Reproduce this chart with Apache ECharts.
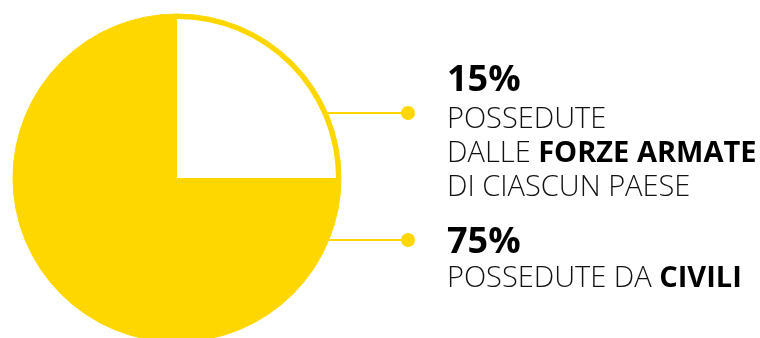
<!DOCTYPE html>
<html><head><meta charset="utf-8">
<script src="https://cdn.jsdelivr.net/npm/echarts@6/dist/echarts.min.js"></script>
<style>html,body{margin:0;padding:0;background:#fff}#c{width:760px;height:338px}</style>
</head><body><div id="c"></div>
<script>
const categories = ['Forze armate', 'Civili'];
const sliceValues = [25, 75];
const percentLabels = ['15%', '75%'];
const descLines = [
  [[{t:'POSSEDUTE', b:false}], [{t:'DALLE ', b:false}, {t:'FORZE ARMATE', b:true}], [{t:'DI CIASCUN PAESE', b:false}]],
  [[{t:'POSSEDUTE DA ', b:false}, {t:'CIVILI', b:true}]]
];

const YEL = '#FFD700';
const chart = echarts.init(document.getElementById('c'), null, {renderer:'canvas'});
const FONT = '"Open Sans", "Noto Sans", sans-serif';

const cx = 177, cy = 178, R = 164;
const leaderY = [113, 240];
const pctY = [81, 243];
const lineStartY = [[120, 153.5, 187.5], [278.5]];
const textX = 447, dotX = 408;

const graphics = [];
for (let i = 0; i < 2; i++) {
  const y = leaderY[i];
  const dx = Math.sqrt(R*R - (y-cy)*(y-cy));
  graphics.push({type:'line', shape:{x1:cx+dx-2, y1:y, x2:dotX, y2:y}, style:{stroke:YEL, lineWidth:2}, silent:true});
  graphics.push({type:'circle', shape:{cx:dotX, cy:y, r:7}, style:{fill:YEL}, silent:true});
  graphics.push({type:'text', x:textX, y:pctY[i], style:{text:percentLabels[i], font:'700 36px ' + FONT, fill:'#000', verticalAlign:'middle', align:'left'}, silent:true});
  descLines[i].forEach((parts, j) => {
    graphics.push({type:'text', x:textX, y:lineStartY[i][j], style:{
      text: parts.map(p => '{' + (p.b ? 'b' : 'l') + '|' + p.t + '}').join(''),
      verticalAlign:'middle', align:'left',
      rich:{
        l:{fontFamily:FONT, fontWeight:300, fontSize:29, fill:'#111', color:'#111'},
        b:{fontFamily:FONT, fontWeight:700, fontSize:29, fill:'#000', color:'#000'}
      }
    }, silent:true});
  });
}

chart.setOption({
  animation:false,
  series:[
    {type:'pie', center:[cx,cy], radius:[0,R], silent:true, label:{show:false}, labelLine:{show:false},
     data: categories.map((c,i)=>({name:c, value:sliceValues[i], itemStyle:{color:YEL, borderColor:YEL, borderWidth:1}}))},
    {type:'pie', center:[cx,cy], radius:[0,R-5], silent:true, label:{show:false}, labelLine:{show:false},
     data: categories.map((c,i)=>({name:c, value:sliceValues[i], itemStyle:{color: i===0 ? '#ffffff' : 'rgba(0,0,0,0)', borderWidth:0}}))}
  ],
  graphic: graphics
});
</script></body></html>
